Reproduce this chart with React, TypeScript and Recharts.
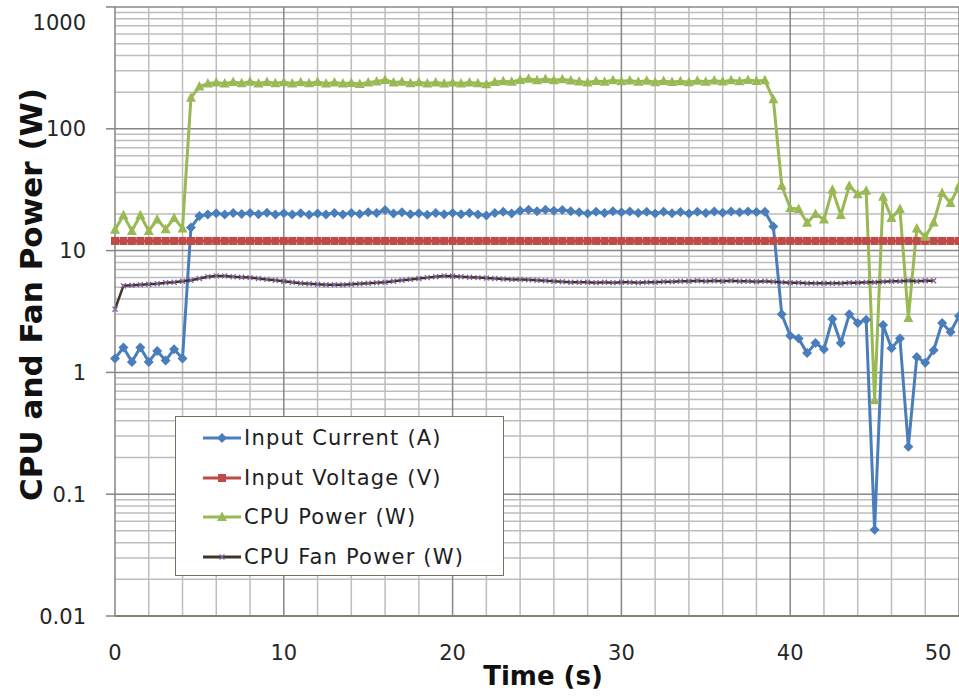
import React from 'react';
import {CartesianGrid, Line, LineChart, XAxis, YAxis} from 'recharts';

// time stamps, one sample every half second
const timeS = [
    0, 0.5, 1, 1.5, 2, 2.5, 3, 3.5, 4, 4.5,
    5, 5.5, 6, 6.5, 7, 7.5, 8, 8.5, 9, 9.5,
    10, 10.5, 11, 11.5, 12, 12.5, 13, 13.5, 14, 14.5,
    15, 15.5, 16, 16.5, 17, 17.5, 18, 18.5, 19, 19.5,
    20, 20.5, 21, 21.5, 22, 22.5, 23, 23.5, 24, 24.5,
    25, 25.5, 26, 26.5, 27, 27.5, 28, 28.5, 29, 29.5,
    30, 30.5, 31, 31.5, 32, 32.5, 33, 33.5, 34, 34.5,
    35, 35.5, 36, 36.5, 37, 37.5, 38, 38.5, 39, 39.5,
    40, 40.5, 41, 41.5, 42, 42.5, 43, 43.5, 44, 44.5,
    45, 45.5, 46, 46.5, 47, 47.5, 48, 48.5, 49, 49.5,
    50
];

const inputCurrentA = [
    1.3, 1.6, 1.22, 1.6, 1.22, 1.5, 1.25, 1.55, 1.3, 15.5,
    19.2, 19.8, 20.3, 19.8, 20.4, 20.0, 20.4, 19.9, 20.5, 19.8,
    20.3, 19.8, 20.3, 19.7, 20.2, 19.8, 20.4, 19.8, 20.4, 20.0,
    20.6, 20.4, 21.5, 20.2, 20.6, 19.9, 20.3, 19.7, 20.4, 19.9,
    20.4, 19.9, 20.4, 19.8, 19.4, 20.4, 20.8, 20.2, 21.2, 21.6,
    21.0, 21.6, 21.2, 21.5, 21.0, 20.6, 20.2, 20.8, 20.4, 21.0,
    20.6, 20.9, 20.4, 20.8, 20.2, 20.8, 20.3, 20.7, 20.2, 20.8,
    20.4, 20.9, 20.5, 20.9, 20.6, 20.9, 20.7, 20.8, 15.8, 3.0,
    2.0, 1.9, 1.44, 1.74, 1.55, 2.75, 1.74, 3.0, 2.55, 2.7,
    0.051, 2.45, 1.58, 1.9, 0.245, 1.34, 1.2, 1.52, 2.55, 2.15,
    2.9
];

const inputVoltageV = [
    12.0, 12.0, 12.0, 12.0, 12.0, 12.0, 12.0, 12.0, 12.0, 12.0,
    12.0, 12.0, 12.0, 12.0, 12.0, 12.0, 12.0, 12.0, 12.0, 12.0,
    12.0, 12.0, 12.0, 12.0, 12.0, 12.0, 12.0, 12.0, 12.0, 12.0,
    12.0, 12.0, 12.0, 12.0, 12.0, 12.0, 12.0, 12.0, 12.0, 12.0,
    12.0, 12.0, 12.0, 12.0, 12.0, 12.0, 12.0, 12.0, 12.0, 12.0,
    12.0, 12.0, 12.0, 12.0, 12.0, 12.0, 12.0, 12.0, 12.0, 12.0,
    12.0, 12.0, 12.0, 12.0, 12.0, 12.0, 12.0, 12.0, 12.0, 12.0,
    12.0, 12.0, 12.0, 12.0, 12.0, 12.0, 12.0, 12.0, 12.0, 12.0,
    12.0, 12.0, 12.0, 12.0, 12.0, 12.0, 12.0, 12.0, 12.0, 12.0,
    12.0, 12.0, 12.0, 12.0, 12.0, 12.0, 12.0, 12.0, 12.0, 12.0,
    12.0
];

const cpuPowerW = [
    14.8, 19.5, 14.5, 19.5, 14.5, 18.0, 15.0, 18.5, 15.2, 180,
    222, 235, 240, 236, 242, 237, 243, 236, 242, 237,
    241, 236, 241, 237, 242, 236, 240, 236, 238, 233,
    240, 244, 252, 240, 243, 237, 241, 236, 240, 236,
    240, 236, 240, 237, 232, 242, 246, 243, 252, 258,
    250, 256, 250, 255, 249, 245, 240, 247, 243, 250,
    246, 249, 243, 248, 241, 247, 242, 246, 241, 248,
    243, 249, 244, 250, 246, 251, 247, 250, 175, 34,
    22.3, 22.0, 16.9, 20.0, 18.0, 31.6, 19.6, 34.0, 29.0, 31.0,
    0.59, 27.7, 18.5, 22.0, 2.8, 15.2, 13.0, 17.0, 29.7, 24.6,
    34.0
];

const cpuFanPowerW = [
    3.3, 5.15, 5.2, 5.25, 5.3, 5.35, 5.45, 5.5, 5.6, 5.7,
    5.9, 6.1, 6.2, 6.2, 6.1, 6.05, 6.0, 5.9, 5.8, 5.7,
    5.6, 5.5, 5.4, 5.35, 5.3, 5.25, 5.25, 5.25, 5.3, 5.35,
    5.4, 5.45, 5.5, 5.6, 5.7, 5.8, 5.9, 6.0, 6.1, 6.2,
    6.15, 6.1, 6.05, 6.0, 5.95, 5.9, 5.85, 5.8, 5.8, 5.75,
    5.7, 5.65, 5.6, 5.55, 5.5, 5.5, 5.5, 5.45, 5.5, 5.45,
    5.5, 5.5, 5.45, 5.5, 5.5, 5.55, 5.55, 5.6, 5.6, 5.65,
    5.6, 5.65, 5.6, 5.65, 5.6, 5.6, 5.55, 5.6, 5.55, 5.5,
    5.45, 5.45, 5.4, 5.4, 5.4, 5.4, 5.4, 5.45, 5.45, 5.5,
    5.5, 5.55, 5.6, 5.6, 5.65, 5.6, 5.65, 5.65, null, null,
    null
];

const xTicks = [0, 10, 20, 30, 40, 50];
const yTicks = [0.01, 0.1, 1, 10, 100, 1000];
const xMajorGrid = [10, 20, 30, 40, 50];
const xMinorGrid = [2, 4, 6, 8, 12, 14, 16, 18, 22, 24, 26, 28, 32, 34, 36, 38, 42, 44, 46, 48];
const yMajorGrid = [0.1, 1, 10, 100, 1000];
const yMinorGrid = [
    0.02, 0.03, 0.04, 0.05, 0.06, 0.07, 0.08, 0.09,
    0.2, 0.3, 0.4, 0.5, 0.6, 0.7, 0.8, 0.9,
    2, 3, 4, 5, 6, 7, 8, 9,
    20, 30, 40, 50, 60, 70, 80, 90,
    200, 300, 400, 500, 600, 700, 800, 900
];

const BLUE = '#4a7ebb';
const RED = '#be4b48';
const GREEN = '#98b954';
const FAN = '#433428';
const FAN_MARK = '#8064a2';
const FONT = '"DejaVu Sans", sans-serif';

const rows = timeS.map((t, i) => ({
    t,
    current: inputCurrentA[i],
    voltage: inputVoltageV[i],
    cpu: cpuPowerW[i],
    fan: cpuFanPowerW[i]
}));

const applyScale = (scale: any, v: number) => {
    if (!scale) return NaN;
    if (typeof scale === 'function') return scale(v);
    if (typeof scale.map === 'function') return scale.map(v);
    return NaN;
};
const gridPoints = (axis: any, values: number[]) =>
    values.map(v => applyScale(axis && axis.scale, v)).filter(p => typeof p === 'number' && !isNaN(p));

const marker = (kind: string, cx: number, cy: number, key?: any) => {
    if (cx == null || cy == null || isNaN(cx) || isNaN(cy)) return <g key={key}/>;
    if (kind === 'diamond') {
        return <path key={key} d={`M${cx} ${cy - 5}L${cx + 5} ${cy}L${cx} ${cy + 5}L${cx - 5} ${cy}Z`} fill={BLUE}/>;
    }
    if (kind === 'square') {
        return <rect key={key} x={cx - 4} y={cy - 4} width={8} height={8} fill={RED}/>;
    }
    if (kind === 'triangle') {
        return <path key={key} d={`M${cx} ${cy - 5.5}L${cx + 5} ${cy + 4}L${cx - 5} ${cy + 4}Z`} fill={GREEN}/>;
    }
    return <path key={key} d={`M${cx - 2.5} ${cy - 2.5}L${cx + 2.5} ${cy + 2.5}M${cx + 2.5} ${cy - 2.5}L${cx - 2.5} ${cy + 2.5}`}
                 stroke={FAN_MARK} strokeWidth={1.3}/>;
};

const dotOf = (kind: string) => (p: any) => marker(kind, p.cx, p.cy, `${kind}-${p.index}`);

const YTick = (props: any) => {
    const {x, y, payload} = props;
    const v = payload.value;
    return (
        <text x={x} y={y} dy={v === 1000 ? 23 : 7.5} textAnchor="end" fontSize={21} fontFamily={FONT} fill="#262626">
            {String(v)}
        </text>
    );
};

const XTick = (props: any) => {
    const {x, y, payload} = props;
    const v = payload.value;
    return (
        <text x={v === 50 ? x - 21 : x} y={y} dy={44} textAnchor="middle" fontSize={21} fontFamily={FONT} fill="#262626">
            {String(v)}
        </text>
    );
};

const legendItems = [
    {name: 'Input Current (A)', color: BLUE, kind: 'diamond'},
    {name: 'Input Voltage (V)', color: RED, kind: 'square'},
    {name: 'CPU Power (W)', color: GREEN, kind: 'triangle'},
    {name: 'CPU Fan Power (W)', color: FAN, kind: 'x'}
];

const ChartLegend = () => (
    <div style={{
        position: 'absolute', left: 175, top: 416, width: 327, height: 158,
        border: '1.5px solid #75725f', background: '#fff', fontFamily: FONT
    }}>
        {legendItems.map((item, i) => (
            <div key={item.name} style={{
                position: 'absolute', left: 0, top: 1 + i * 39.7, height: 40, width: '100%',
                display: 'flex', alignItems: 'center'
            }}>
                <svg width={40} height={14} style={{marginLeft: 26}}>
                    <line x1={1} y1={7} x2={39} y2={7} stroke={item.color} strokeWidth={3}/>
                    {marker(item.kind, 20, 7)}
                </svg>
                <span style={{fontSize: 21, letterSpacing: 1.2, color: '#1e1e1e', marginLeft: 2, whiteSpace: 'nowrap'}}>
                    {item.name}
                </span>
            </div>
        ))}
    </div>
);

const YTitle = (props: any) => {
    const vb = props.viewBox || {x: 0, y: 7, width: 115, height: 609};
    const cx = vb.x + 31;
    const cy = vb.y + vb.height / 2 - 17;
    return (
        <text x={cx} y={cy} transform={`rotate(-90 ${cx} ${cy})`} textAnchor="middle" dominantBaseline="central"
              fontSize={31} fontWeight="bold" fontFamily={FONT} fill="#111">
            CPU and Fan Power (W)
        </text>
    );
};

const XTitle = (props: any) => {
    const vb = props.viewBox || {x: 115, y: 616, width: 844, height: 82};
    return (
        <text x={vb.x + vb.width / 2 + 6} y={vb.y + 69} textAnchor="middle"
              fontSize={26} fontWeight="bold" fontFamily={FONT} fill="#111">
            Time (s)
        </text>
    );
};

const App: React.FC = () => {
    return (
        <div style={{position: 'absolute', left: 0, top: 0, width: 959, height: 698, overflow: 'hidden', background: '#fff'}}>
            <LineChart width={959} height={698} data={rows} margin={{top: 7, right: 0, bottom: 0, left: 0}}>
                <CartesianGrid stroke="#bdbdbd" strokeWidth={1.5}
                               horizontalCoordinatesGenerator={(p: any) => gridPoints(p.yAxis, yMinorGrid)}
                               verticalCoordinatesGenerator={(p: any) => gridPoints(p.xAxis, xMinorGrid)}/>
                <CartesianGrid stroke="#878787" strokeWidth={1.5}
                               horizontalCoordinatesGenerator={(p: any) => gridPoints(p.yAxis, yMajorGrid)}
                               verticalCoordinatesGenerator={(p: any) => gridPoints(p.xAxis, xMajorGrid)}/>
                <XAxis dataKey="t" type="number" domain={[0, 50]} ticks={xTicks} interval={0}
                       tickLine={false} tickSize={0} tickMargin={0} height={82}
                       axisLine={{stroke: '#85826d', strokeWidth: 2}} tick={<XTick/>}
                       label={{content: (p: any) => <XTitle {...p}/>}}/>
                <YAxis type="number" scale="log" domain={[0.01, 1000]} ticks={yTicks} interval={0} width={115}
                       tickSize={9} tickMargin={20} tickLine={{stroke: '#868686', strokeWidth: 1.5}}
                       axisLine={{stroke: '#868686', strokeWidth: 1.5}} tick={<YTick/>}
                       label={{content: (p: any) => <YTitle {...p}/>}}/>
                <Line type="linear" dataKey="current" name="Input Current (A)" stroke={BLUE} strokeWidth={3}
                      dot={dotOf('diamond')} activeDot={false} isAnimationActive={false}/>
                <Line type="linear" dataKey="voltage" name="Input Voltage (V)" stroke={RED} strokeWidth={3}
                      dot={dotOf('square')} activeDot={false} isAnimationActive={false}/>
                <Line type="linear" dataKey="cpu" name="CPU Power (W)" stroke={GREEN} strokeWidth={3}
                      dot={dotOf('triangle')} activeDot={false} isAnimationActive={false}/>
                <Line type="linear" dataKey="fan" name="CPU Fan Power (W)" stroke={FAN} strokeWidth={2.5}
                      dot={dotOf('x')} activeDot={false} isAnimationActive={false}/>
            </LineChart>
            <ChartLegend/>
        </div>
    );
};

export default App;
